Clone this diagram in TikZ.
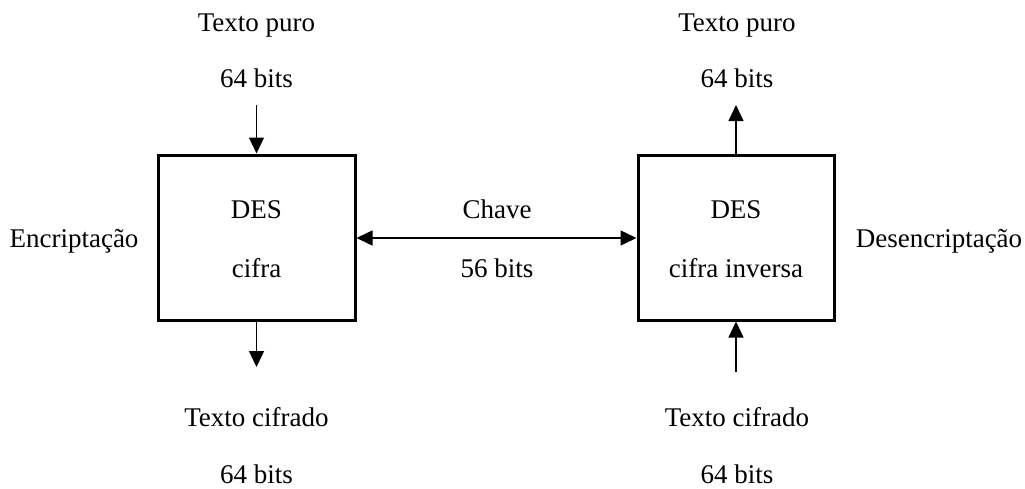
\documentclass[tikz,border=0pt]{standalone}
\usepackage{fontspec}
\setmainfont{Liberation Serif}
\usetikzlibrary{arrows.meta}
\begin{document}
\begin{tikzpicture}[x=1pt,y=-1pt,
  every node/.style={font=\fontsize{27}{31}\selectfont},
  txt/.style={anchor=base,inner sep=0pt},
  desbox/.style={draw,line width=3pt,minimum height=165pt,inner sep=0pt},
  flow/.style={line width=1.4pt,-{Triangle[length=16pt,width=15pt]}},
  both/.style={line width=1.4pt,{Triangle[length=16pt,width=15pt]}-{Triangle[length=16pt,width=15pt]}}]
\useasboundingbox (0,0) rectangle (1025,488);

% the two DES blocks
\node[desbox,minimum width=197pt] (enc) at (256.5,237.5) {};
\node[desbox,minimum width=196pt] (dec) at (736,237.5) {};

% block labels
\node[txt] (encA) at (256.5,218) {DES};
\node[txt] (encB) at (256.5,277) {cifra};
\node[txt] (decA) at (736,218) {DES};
\node[txt] (decB) at (736,277) {cifra inversa};

% side labels
\node[txt] (lside) at (74,247) {Encriptação};
\node[txt] (rside) at (939,247) {Desencriptação};

% key
\node[txt] (key) at (497,218) {Chave};
\node[txt] (keyb) at (497,277) {56 bits};
\draw[both] (enc.east |- 0,238) -- (dec.west |- 0,238);

% plaintext / ciphertext labels
\node[txt] (ptl) at (256.5,31) {Texto puro};
\node[txt] (ptlb) at (256.5,87) {64 bits};
\node[txt] (ptr) at (737,31) {Texto puro};
\node[txt] (ptrb) at (737,87) {64 bits};
\node[txt] (ctl) at (256.5,426) {Texto cifrado};
\node[txt] (ctlb) at (256.5,483) {64 bits};
\node[txt] (ctr) at (737,426) {Texto cifrado};
\node[txt] (ctrb) at (737,483) {64 bits};

% data flow
\coordinate (inL) at (256.5,105);
\coordinate (outL) at (256.5,367);
\coordinate (outR) at (736,105);
\coordinate (inR) at (736,372);
\draw[flow] (inL) -- (enc.north);
\draw[flow] (enc.south) -- (outL);
\draw[flow] (dec.north) -- (outR);
\draw[flow] (inR) -- (dec.south);
\end{tikzpicture}
\end{document}
